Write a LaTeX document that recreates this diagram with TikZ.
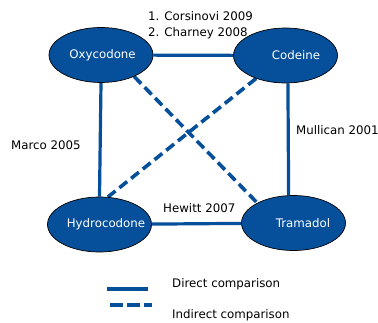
\documentclass[tikz,border=0pt]{standalone}
\usepackage{fontspec}
\setmainfont{DejaVu Sans}
\usetikzlibrary{shapes.geometric,backgrounds}
\definecolor{DrugBlue}{RGB}{6,80,155}
\newcommand{\drugname}[2][0pt]{\makebox[0pt]{\hspace*{#1}#2}}
\tikzset{
  drug/.style={ellipse, draw=black, line width=0.7pt, fill=DrugBlue, text=white,
    minimum width=104pt, minimum height=55pt, inner sep=0pt},
  direct/.style={draw=DrugBlue, line width=3.2pt},
  indirect/.style={draw=DrugBlue, line width=3.6pt, dash pattern=on 10pt off 5pt},
  study/.style={anchor=west, inner sep=0pt},
}

\begin{document}
\begin{tikzpicture}[x=1pt, y=1pt, font=\fontsize{11.8}{14}\selectfont]
  \useasboundingbox (0,0) rectangle (378,322);

  % --- (A) The four drugs ---
  \node[drug] (oxy)      at (101,267)   {\drugname[3pt]{Oxycodone}};
  \node[drug] (codeine)  at (285.5,266.5) {\drugname[21pt]{Codeine}};
  \node[drug] (hydro)    at (99.5,97.5) {\drugname[13pt]{Hydrocodone}};
  \node[drug] (tramadol) at (293.5,99)  {\drugname[19pt]{Tramadol}};

  % --- (B) Comparisons (behind the ellipses) ---
  \begin{scope}[on background layer]
    \draw[direct] (oxy) -- (codeine);
    \draw[direct] (hydro) -- (tramadol);
    \draw[direct] (oxy.south) -- (hydro.north);
    \draw[direct] (codeine.-85) -- (tramadol.100);

    % indirect ones cross in the middle
    \draw[indirect] (oxy.-33) -- (tramadol.151);
    \draw[indirect] (codeine.218) -- (hydro.73);
  \end{scope}

  % --- (C) Studies ---
  \node[study] (corsinovi) at (148,306) {1. Corsinovi 2009};
  \node[study] (charney)   at (148,289) {2. Charney 2008};
  \node[study] (marco)     at (11,177)  {Marco 2005};
  \node[study] (mullican)  at (296,192) {Mullican 2001};
  \node[study] (hewitt)    at (163,114) {Hewitt 2007};

  % --- (D) Legend ---
  \coordinate (L1) at (107,33);
  \coordinate (L2) at (148,33);
  \coordinate (L3) at (110,17);
  \coordinate (L4) at (152,17);
  \draw[direct, line width=4.5pt] (L1) -- (L2);
  \draw[indirect, line width=4pt, dash pattern=on 13pt off 4pt] (L3) -- (L4);
  \node[study] (directtxt)   at (172,38) {Direct comparison};
  \node[study] (indirecttxt) at (172,7)  {Indirect comparison};
\end{tikzpicture}
\end{document}
